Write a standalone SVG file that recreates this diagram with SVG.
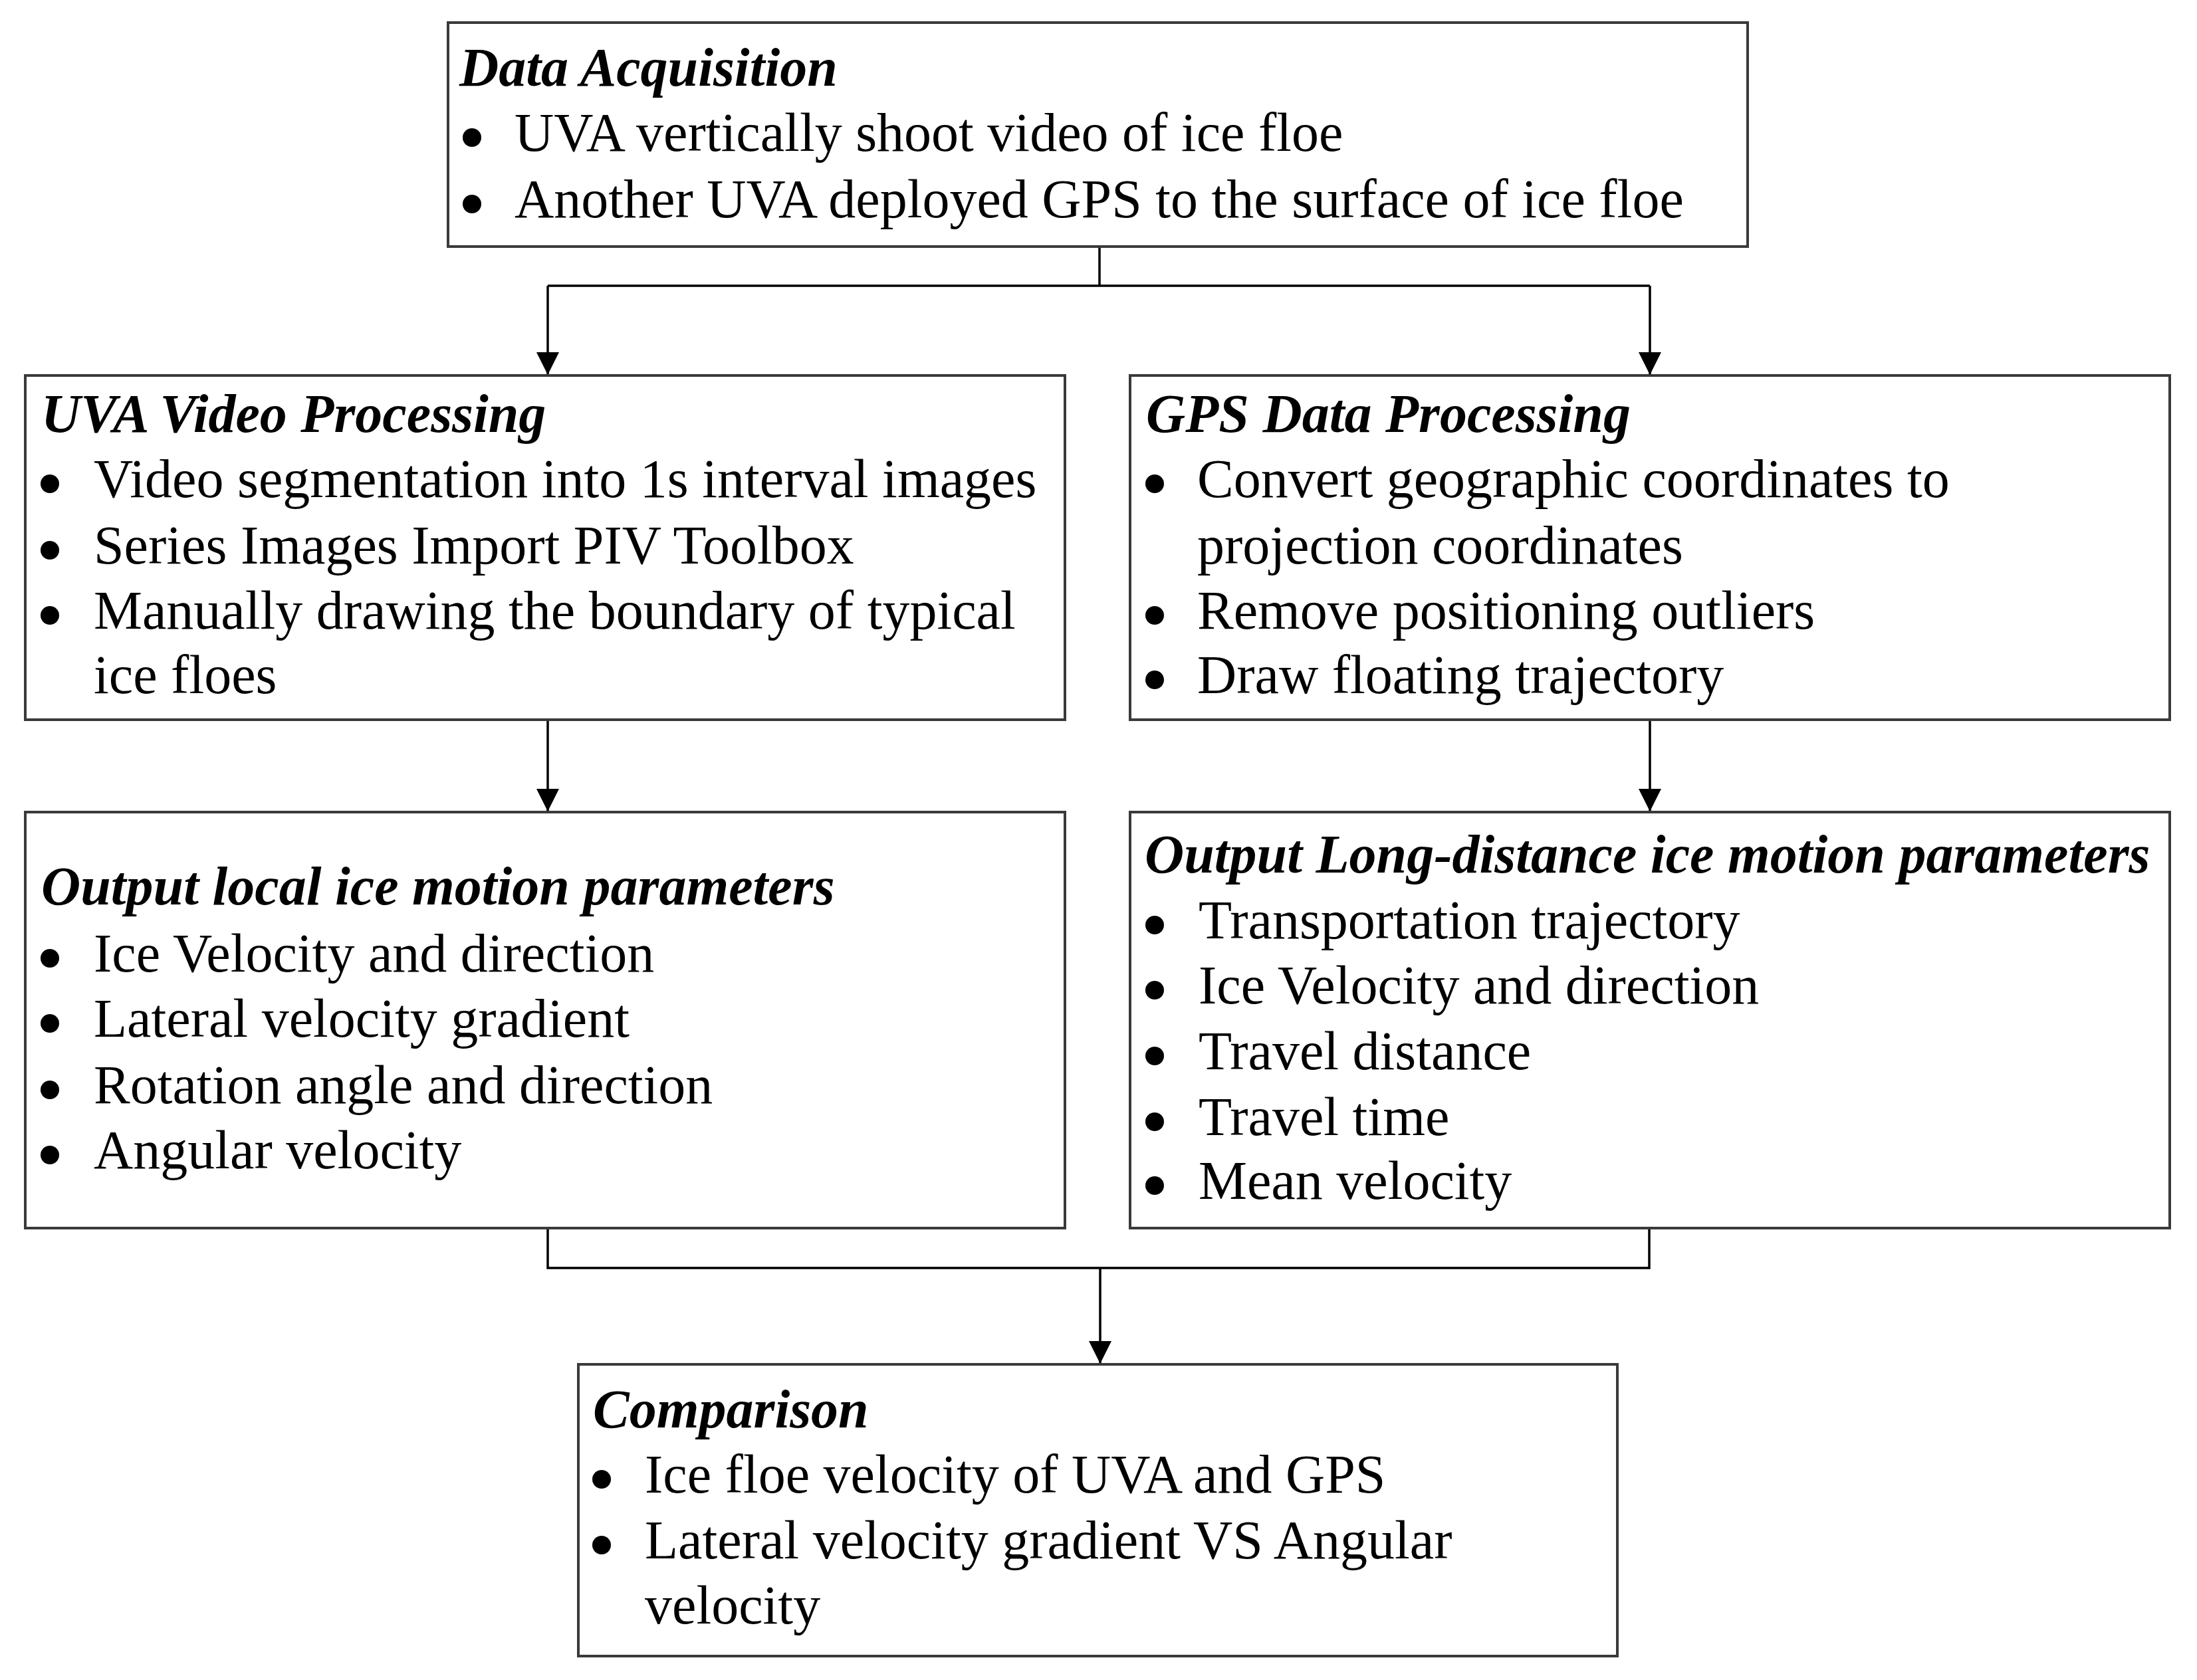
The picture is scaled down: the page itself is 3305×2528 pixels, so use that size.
<svg xmlns="http://www.w3.org/2000/svg" width="3305" height="2528" viewBox="0 0 3305 2528">
<style>
.box{fill:#fff;stroke:#3a3a3a;stroke-width:4}
.ln{fill:none;stroke:#000;stroke-width:3.5}
.dot{fill:#000}
text{font-family:"Liberation Serif","Times New Roman",serif;font-size:82px;fill:#000}
.h{font-weight:bold;font-style:italic}
</style>
<defs>
<marker id="ah" markerUnits="userSpaceOnUse" markerWidth="34" markerHeight="34" refX="32" refY="16" orient="auto" viewBox="0 0 32 32">
<path d="M0,0 L32,16 L0,32 Z" fill="#000"/>
</marker>
</defs>
<rect width="3305" height="2528" fill="#fff"/>
<g id="connectors">
<path class="ln" d="M1654,371 V430"/>
<path class="ln" d="M824,430 H2482"/>
<path class="ln" d="M824,430 V564" marker-end="url(#ah)"/>
<path class="ln" d="M2482,430 V564" marker-end="url(#ah)"/>
<path class="ln" d="M824,1083 V1221" marker-end="url(#ah)"/>
<path class="ln" d="M2482,1083 V1221" marker-end="url(#ah)"/>
<path class="ln" d="M824,1848 V1908 H2481 V1848"/>
<path class="ln" d="M1655,1908 V2052" marker-end="url(#ah)"/>
</g>
<g id="data-acquisition">
<rect class="box" x="674" y="34" width="1955" height="337"/>
<text class="h" x="691" y="129">Data Acquisition</text>
<circle class="dot" cx="710" cy="207" r="14"/><text x="774" y="227">UVA vertically shoot video of ice floe</text>
<circle class="dot" cx="710" cy="307" r="14"/><text x="774" y="327">Another UVA deployed GPS to the surface of ice floe</text>
</g>
<g id="uva-video-processing">
<rect class="box" x="38" y="565" width="1564" height="518"/>
<text class="h" x="62" y="650">UVA Video Processing</text>
<circle class="dot" cx="75" cy="728" r="14"/><text x="141" y="748">Video segmentation into 1s interval images</text>
<circle class="dot" cx="75" cy="828" r="14"/><text x="141" y="848">Series Images Import PIV Toolbox</text>
<circle class="dot" cx="75" cy="926" r="14"/><text x="141" y="946">Manually drawing the boundary of typical</text>
<text x="141" y="1043">ice floes</text>
</g>
<g id="gps-data-processing">
<rect class="box" x="1700" y="565" width="1564" height="518"/>
<text class="h" x="1724" y="650">GPS Data Processing</text>
<circle class="dot" cx="1737" cy="728" r="14"/><text x="1801" y="748">Convert geographic coordinates to</text>
<text x="1801" y="848">projection coordinates</text>
<circle class="dot" cx="1737" cy="926" r="14"/><text x="1801" y="946">Remove positioning outliers</text>
<circle class="dot" cx="1737" cy="1023" r="14"/><text x="1801" y="1043">Draw floating trajectory</text>
</g>
<g id="output-local">
<rect class="box" x="38" y="1222" width="1564" height="626"/>
<text class="h" x="62" y="1361">Output local ice motion parameters</text>
<circle class="dot" cx="75" cy="1442" r="14"/><text x="141" y="1462">Ice Velocity and direction</text>
<circle class="dot" cx="75" cy="1540" r="14"/><text x="141" y="1560">Lateral velocity gradient</text>
<circle class="dot" cx="75" cy="1640" r="14"/><text x="141" y="1660">Rotation angle and direction</text>
<circle class="dot" cx="75" cy="1738" r="14"/><text x="141" y="1758">Angular velocity</text>
</g>
<g id="output-long-distance">
<rect class="box" x="1700" y="1222" width="1564" height="626"/>
<text class="h" x="1722" y="1313">Output Long-distance ice motion parameters</text>
<circle class="dot" cx="1737" cy="1392" r="14"/><text x="1803" y="1412">Transportation trajectory</text>
<circle class="dot" cx="1737" cy="1490" r="14"/><text x="1803" y="1510">Ice Velocity and direction</text>
<circle class="dot" cx="1737" cy="1589" r="14"/><text x="1803" y="1609">Travel distance</text>
<circle class="dot" cx="1737" cy="1688" r="14"/><text x="1803" y="1708">Travel time</text>
<circle class="dot" cx="1737" cy="1784" r="14"/><text x="1803" y="1804">Mean velocity</text>
</g>
<g id="comparison">
<rect class="box" x="870" y="2053" width="1563" height="439"/>
<text class="h" x="892" y="2148">Comparison</text>
<circle class="dot" cx="905" cy="2226" r="14"/><text x="970" y="2246">Ice floe velocity of UVA and GPS</text>
<circle class="dot" cx="905" cy="2325" r="14"/><text x="970" y="2345">Lateral velocity gradient VS Angular</text>
<text x="970" y="2443">velocity</text>
</g>
</svg>
